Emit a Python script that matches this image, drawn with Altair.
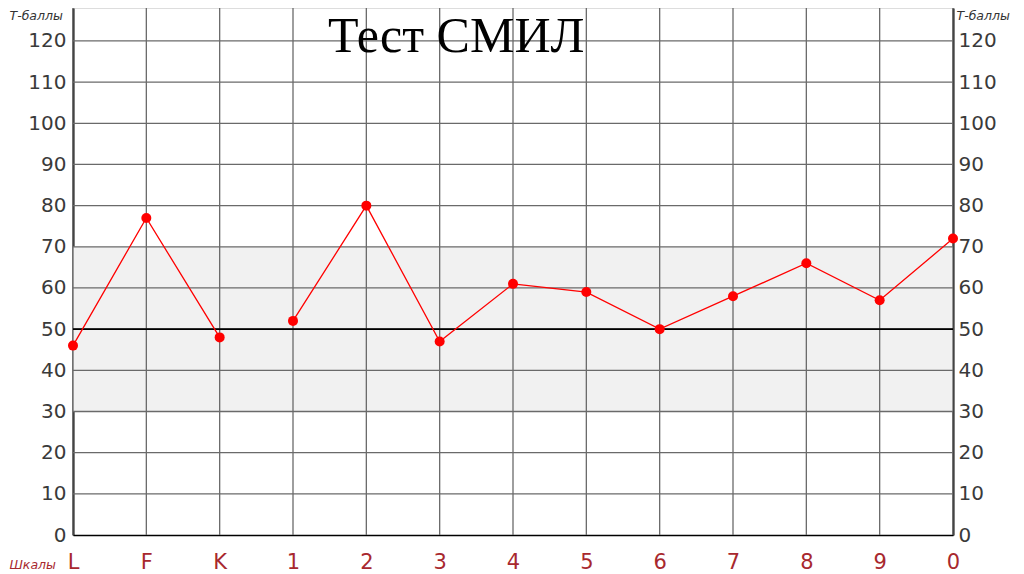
import altair as alt
import pandas as pd

# ---- data ----
categories = ["L", "F", "K", "1", "2", "3", "4", "5", "6", "7", "8", "9", "0"]
t_scores = [46, 77, 48, 52, 80, 47, 61, 59, 50, 58, 66, 57, 72]
segments = [1, 1, 1, 2, 2, 2, 2, 2, 2, 2, 2, 2, 2]  # line is broken between K and 1
y_ticks = [0, 10, 20, 30, 40, 50, 60, 70, 80, 90, 100, 110, 120]
norm_band = [30, 70]
mid_line = 50

df = pd.DataFrame({"cat": categories, "t": t_scores, "seg": segments})
band_df = pd.DataFrame({"lo": [norm_band[0]], "hi": [norm_band[1]]})
hgrid_df = pd.DataFrame({"y": y_ticks[1:]})
vgrid_df = pd.DataFrame({"cat": categories})
mid_df = pd.DataFrame({"y": [mid_line]})

xscale = alt.Scale(type="point", padding=0, domain=categories)
yscale = alt.Scale(domain=[0, 128], nice=False, zero=True)

AX_FONT = "DejaVu Sans"
RED = "#ff0000"
LABEL_RED = "#a8282e"

left_axis = alt.Axis(
    values=y_ticks, ticks=False, grid=False, domainColor="black", domainWidth=2,
    labelFont=AX_FONT, labelFontSize=20, labelColor="#3a3a3a", labelPadding=7,
    title="Т-баллы", titleAngle=0, titleFont=AX_FONT, titleFontSize=12.5,
    titleFontStyle="italic", titleFontWeight="normal", titleColor="#333333",
    titleAlign="left", titleBaseline="alphabetic", titleX=-64, titleY=11,
)
right_axis = alt.Axis(
    orient="right", values=y_ticks, ticks=False, grid=False, domainColor="black",
    domainWidth=2, labelFont=AX_FONT, labelFontSize=20, labelColor="#3a3a3a",
    labelPadding=5,
    title="Т-баллы", titleAngle=0, titleFont=AX_FONT, titleFontSize=12.5,
    titleFontStyle="italic", titleFontWeight="normal", titleColor="#333333",
    titleAlign="left", titleBaseline="alphabetic", titleX=3, titleY=11,
)
x_axis = alt.Axis(
    orient="bottom", ticks=False, grid=False, domain=True, domainColor="black",
    domainWidth=1.5, labelAngle=0, labels=True,
    labelFont=AX_FONT, labelFontSize=21, labelColor=LABEL_RED, labelPadding=16,
    title="Шкалы", titleFont=AX_FONT, titleFontSize=12.5, titleFontStyle="italic",
    titleFontWeight="normal", titleColor=LABEL_RED, titleAlign="left",
    titleBaseline="alphabetic", titleX=-64, titleY=33,
)

X = alt.X("cat:N", scale=xscale, sort=categories, axis=x_axis)

band = alt.Chart(band_df).mark_rect(color="#f1f1f1").encode(
    y=alt.Y("lo:Q", scale=yscale, axis=left_axis),
    y2="hi:Q",
)

hgrid = alt.Chart(hgrid_df).mark_rule(color="#6a6a6a", strokeWidth=1.3).encode(
    y=alt.Y("y:Q", scale=yscale, axis=None),
)

vgrid = alt.Chart(vgrid_df).mark_rule(color="#6a6a6a", strokeWidth=1.3).encode(
    x=X,
)

mid = alt.Chart(mid_df).mark_rule(color="black", strokeWidth=1.6).encode(
    y=alt.Y("y:Q", scale=yscale, axis=None),
)

line = alt.Chart(df).mark_line(color=RED, strokeWidth=1.3).encode(
    x=X,
    y=alt.Y("t:Q", scale=yscale, axis=None),
    detail="seg:N",
)

pts = alt.Chart(df).mark_point(filled=True, color=RED, opacity=1, size=100, shape="circle").encode(
    x=X,
    y=alt.Y("t:Q", scale=yscale, axis=right_axis),
)

chart = (
    alt.layer(band, hgrid, vgrid, mid, line, pts)
    .resolve_axis(y="independent")
    .properties(
        width=880,
        height=527,
        padding={"left": 65, "top": 0, "right": 63, "bottom": 39},
        autosize=alt.AutoSizeParams(type="none"),
        title=alt.TitleParams(
            "Тест СМИЛ", font="Liberation Serif", fontSize=50, fontWeight="normal",
            color="black", anchor="start", frame="group", dx=255, dy=59,
        ),
    )
    .configure_view(stroke=None)
    .configure(background="white")
)

chart.save("out.html", embed_options={"renderer": "svg", "actions": False})
